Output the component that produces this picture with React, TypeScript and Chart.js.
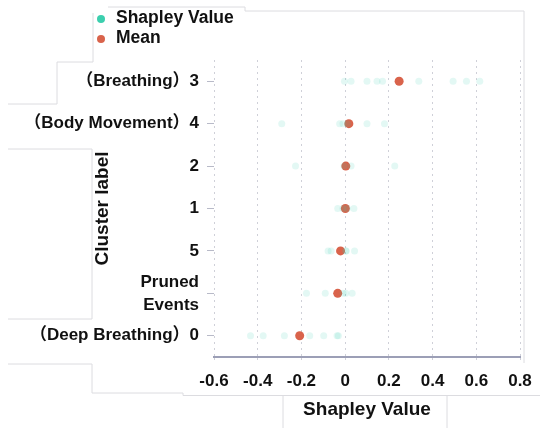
import React, { useEffect, useRef } from "react";
import { Chart, registerables } from "chart.js";

Chart.register(...registerables);

const categoryLabels = [
  "（Breathing）3",
  "（Body Movement）4",
  "2",
  "1",
  "5",
  "Pruned Events",
  "（Deep Breathing）0",
];

const shapCluster3 = [-0.003, 0.027, 0.1, 0.146, 0.171, 0.337, 0.494, 0.555, 0.616];
const shapCluster4 = [-0.29, -0.025, -0.01, 0.01, 0.1, 0.18];
const shapCluster2 = [-0.227, -0.005, 0.027, 0.227];
const shapCluster1 = [-0.034, -0.01, 0.01, 0.04];
const shapCluster5 = [-0.078, -0.064, 0.003, 0.005, 0.043];
const shapPruned = [-0.177, -0.091, -0.01, 0.003, 0.032];
const shapCluster0 = [-0.433, -0.375, -0.278, -0.162, -0.098, -0.037, -0.031];

const meanValues = [0.247, 0.017, 0.003, 0.001, -0.021, -0.034, -0.208];

const xTicks = [-0.6, -0.4, -0.2, 0, 0.2, 0.4, 0.6, 0.8];

const TEAL = "#3ccfae";
const TEAL_FAINT = "rgba(60, 207, 174, 0.14)";
const RED = "#d9634b";
const FONT = "'Liberation Sans', Arial, 'Noto Sans CJK JP', sans-serif";

const shapGroups = [
  shapCluster3,
  shapCluster4,
  shapCluster2,
  shapCluster1,
  shapCluster5,
  shapPruned,
  shapCluster0,
];

const decoLines: [number, number, number, number][] = [
  [108, 7, 245, 7],
  [245, 7, 245, 11],
  [245, 11, 524, 11],
  [524, 11, 524, 363],
  [93, 13, 93, 62],
  [57, 62, 93, 62],
  [57, 62, 57, 104],
  [8, 104, 57, 104],
  [8, 149, 92, 149],
  [92, 149, 92, 319],
  [8, 319, 92, 319],
  [8, 364, 92, 364],
  [92, 364, 92, 393],
  [92, 393, 183, 393],
  [183, 393, 183, 395.5],
  [183, 395.5, 540, 395.5],
  [283, 395.5, 283, 428],
  [447, 395.5, 447, 428],
];

const yTitlePlugin = {
  id: "yTitle",
  afterDraw(chart: any) {
    const { ctx, chartArea } = chart;
    ctx.save();
    ctx.translate(103, (chartArea.top + chartArea.bottom) / 2);
    ctx.rotate(-Math.PI / 2);
    ctx.font = `bold 19px ${FONT}`;
    ctx.fillStyle = "#111";
    ctx.textAlign = "center";
    ctx.textBaseline = "middle";
    ctx.fillText("Cluster label", 0, 0);
    ctx.restore();
  },
};

export default function App() {
  const canvasRef = useRef<HTMLCanvasElement | null>(null);

  useEffect(() => {
    if (!canvasRef.current) return;
    const shapPoints: { x: number; y: string }[] = [];
    shapGroups.forEach((vals, i) =>
      vals.forEach((v) => shapPoints.push({ x: v, y: categoryLabels[i] }))
    );
    const meanPoints = meanValues.map((v, i) => ({ x: v, y: categoryLabels[i] }));

    const chart = new Chart(canvasRef.current, {
      type: "scatter",
      data: {
        datasets: [
          {
            label: "Shapley Value",
            data: shapPoints,
            backgroundColor: TEAL_FAINT,
            borderWidth: 0,
            pointRadius: 3.5,
          },
          {
            label: "Mean",
            data: meanPoints,
            backgroundColor: RED,
            borderWidth: 0,
            pointRadius: 4.5,
          },
        ],
      },
      options: {
        animation: false,
        responsive: true,
        maintainAspectRatio: false,
        layout: { padding: { top: 60, right: 20, left: 0, bottom: 0 } },
        plugins: {
          legend: { display: false },
          tooltip: { enabled: false },
        },
        scales: {
          x: {
            type: "linear",
            min: -0.6,
            max: 0.8,
            afterBuildTicks: (scale: any) => {
              scale.ticks = xTicks.map((v) => ({ value: v }));
            },
            afterFit: (scale: any) => {
              scale.height = 71;
            },
            ticks: {
              font: { family: FONT, size: 17, weight: "bold" },
              color: "#111",
              padding: 8,
              autoSkip: false,
              maxRotation: 0,
              callback: (v: any) => String(Math.round(Number(v) * 10) / 10),
            },
            grid: {
              color: "#cfd0d8",
              lineWidth: 1,
              tickLength: 6,
              tickColor: "#cfd0d8",
              tickBorderDash: [2, 3],
            },
            border: {
              display: true,
              color: "#9c9fb6",
              width: 2,
              dash: [2, 4],
            },
            title: {
              display: true,
              text: "Shapley Value",
              font: { family: FONT, size: 19, weight: "bold" },
              color: "#111",
              padding: { top: 0, bottom: 7 },
            },
          },
          y: {
            type: "category",
            labels: categoryLabels,
            offset: true,
            afterFit: (scale: any) => {
              scale.width = 214;
            },
            ticks: {
              font: { family: FONT, size: 17, weight: "bold", lineHeight: 1.35 },
              color: "#111",
              padding: 8,
              autoSkip: false,
              callback: function (this: any, v: any) {
                const lab = categoryLabels[Number(v)];
                return lab === "Pruned Events" ? ["Pruned", "Events"] : lab;
              },
            },
            grid: {
              drawOnChartArea: false,
              drawTicks: true,
              tickLength: 7,
              tickColor: "#b8bac8",
              offset: false,
            },
            border: { display: false },
          },
        },
      } as any,
      plugins: [yTitlePlugin],
    });

    return () => chart.destroy();
  }, []);

  return (
    <div
      style={{
        position: "fixed",
        left: 0,
        top: 0,
        width: 540,
        height: 428,
        background: "#fff",
        fontFamily: FONT,
      }}
    >
      <svg width={540} height={428} style={{ position: "absolute", left: 0, top: 0 }}>
        {decoLines.map(([x1, y1, x2, y2], i) => (
          <line key={i} x1={x1} y1={y1} x2={x2} y2={y2} stroke="#dcdce0" strokeWidth={1} />
        ))}
      </svg>
      <div style={{ position: "absolute", left: 0, top: 0, width: 540, height: 428 }}>
        <canvas ref={canvasRef} />
      </div>
      <div
        style={{
          position: "absolute",
          left: 97,
          top: 7,
          fontWeight: "bold",
          fontSize: 17.5,
          color: "#111",
          lineHeight: "20px",
        }}
      >
        {[
          { label: "Shapley Value", color: TEAL },
          { label: "Mean", color: RED },
        ].map((it) => (
          <div key={it.label} style={{ display: "flex", alignItems: "center", height: 20 }}>
            <span
              style={{
                display: "inline-block",
                width: 8,
                height: 8,
                borderRadius: 4,
                background: it.color,
                marginRight: 11,
                marginTop: 3,
              }}
            />
            <span>{it.label}</span>
          </div>
        ))}
      </div>
    </div>
  );
}
